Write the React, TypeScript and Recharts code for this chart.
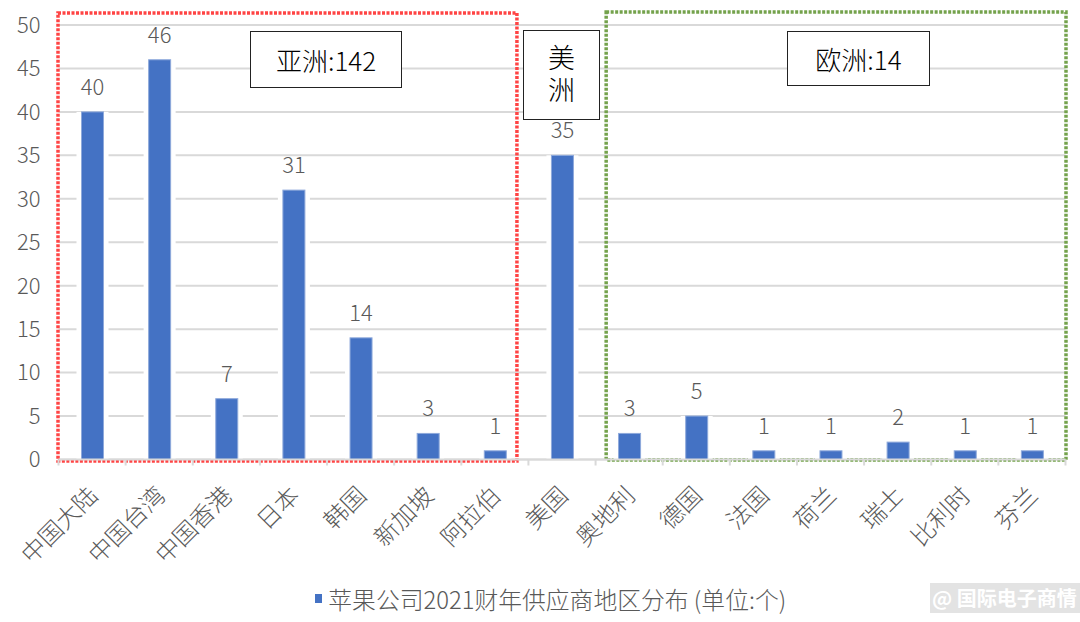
import React from 'react';
import { BarChart, Bar, XAxis, YAxis, CartesianGrid, LabelList, ReferenceArea, Legend } from 'recharts';

const categories = ['中国大陆', '中国台湾', '中国香港', '日本', '韩国', '新加坡', '阿拉伯', '美国', '奥地利', '德国', '法国', '荷兰', '瑞士', '比利时', '芬兰'];
const supplierCounts = [40, 46, 7, 31, 14, 3, 1, 35, 3, 5, 1, 1, 2, 1, 1];
const yTicks = [0, 5, 10, 15, 20, 25, 30, 35, 40, 45, 50];
const seriesName = '苹果公司2021财年供应商地区分布 (单位:个)';
const asiaRange = ['中国大陆', '阿拉伯'];
const europeRange = ['奥地利', '芬兰'];
const regionLabels = ['亚洲:142', '美洲', '欧洲:14'];

const data = categories.map((name, i) => ({ name, value: supplierCounts[i] }));

const FONT = '"Noto Sans CJK SC", "Noto Sans", sans-serif';
const GRAY = '#595959';
const GRID = '#d9d9d9';

const BarShape = (props: any) => {
  const { x, y, width, height } = props;
  if (!height || height <= 0) return null;
  return (
    <g>
      <rect x={x - 5} y={y} width={width + 10} height={height} fill="#fff" />
      <rect x={x} y={y} width={width} height={height} fill="#4472C4" stroke="#8EA9DB" strokeWidth={1} />
    </g>
  );
};

const XTick = (props: any) => {
  const { x, y, payload, index } = props;
  const off = payload && payload.offset ? payload.offset : 33.57;
  const last = index === categories.length - 1;
  const px = x;
  const py = y + 30;
  return (
    <g>
      <line x1={x - off} y1={y} x2={x - off} y2={y + 6} stroke={GRID} strokeWidth={2} />
      {last && <line x1={x + off} y1={y} x2={x + off} y2={y + 6} stroke={GRID} strokeWidth={2} />}
      <text
        x={px}
        y={py}
        transform={`rotate(-45 ${px} ${py})`}
        textAnchor="end"
        dominantBaseline="central"
        fill={GRAY}
        fontSize={24}
        fontWeight={300}
        fontFamily={FONT}
      >
        {payload.value}
      </text>
    </g>
  );
};

const makeBox = (color: string, insetL: number, insetR: number, top: number, bottom: number) => (props: any) => {
  const { x, y, width, height } = props;
  return (
    <rect
      x={x + insetL}
      y={y - top}
      width={width - insetL - insetR}
      height={height + top + bottom}
      fill="none"
      stroke={color}
      strokeWidth={3.5}
      strokeDasharray="3 1.5"
    />
  );
};

const LegendContent = () => (
  <div style={{ display: 'flex', justifyContent: 'center', alignItems: 'center', paddingLeft: 36, height: 40, fontFamily: FONT }}>
    <span style={{ display: 'inline-block', width: 7, height: 9, background: '#4472C4', marginRight: 6 }} />
    <span style={{ fontSize: 23.8, color: GRAY, fontWeight: 300 }}>{seriesName}</span>
  </div>
);

const boxStyle: React.CSSProperties = {
  position: 'absolute',
  background: '#fff',
  border: '1.5px solid #222',
  boxSizing: 'border-box',
  fontFamily: FONT,
  fontSize: 26,
  fontWeight: 300,
  color: '#000',
  display: 'flex',
  alignItems: 'center',
  justifyContent: 'center',
  textAlign: 'center',
};

export default function App() {
  return (
    <div style={{ position: 'absolute', left: 0, top: 0, width: 1080, height: 622, background: '#fff', overflow: 'hidden' }}>
      <BarChart width={1080} height={622} data={data} margin={{ top: 25, right: 14.5, left: 0, bottom: 4 }}>
        <CartesianGrid vertical={false} stroke={GRID} strokeWidth={2} />
        <XAxis
          dataKey="name"
          interval={0}
          height={118.5}
          tickSize={0}
          tickMargin={0}
          tickLine={false}
          axisLine={{ stroke: GRID, strokeWidth: 2 }}
          tick={<XTick />}
        />
        <YAxis
          domain={[0, 50]}
          ticks={yTicks}
          width={58.5}
          tickSize={0}
          tickMargin={18}
          tickLine={false}
          axisLine={false}
          tick={{ fill: GRAY, fontSize: 22, fontFamily: FONT, fontWeight: 300 }}
        />
        <Legend verticalAlign="bottom" height={40} content={<LegendContent />} />
        <Bar dataKey="value" name={seriesName} barSize={22} isAnimationActive={false} shape={<BarShape />}>
          <LabelList dataKey="value" position="top" offset={17} fill={GRAY} fontSize={22} fontFamily={FONT} fontWeight={300} />
        </Bar>
        <ReferenceArea x1={asiaRange[0]} x2={asiaRange[1]} ifOverflow="visible" shape={makeBox('#FF4444', -0.5, 11.5, 12, 1.5)} />
        <ReferenceArea x1={europeRange[0]} x2={europeRange[1]} ifOverflow="visible" shape={makeBox('#74A24C', 10.6, -0.5, 13, 0.5)} />
      </BarChart>
      <div style={{ ...boxStyle, left: 250, top: 31, width: 152, height: 57 }}>{regionLabels[0]}</div>
      <div style={{ ...boxStyle, left: 523, top: 30, width: 77, height: 90, lineHeight: '32px', fontSize: 27, padding: '0 20px', paddingBottom: 4 }}>{regionLabels[1]}</div>
      <div style={{ ...boxStyle, left: 787, top: 31, width: 143, height: 55 }}>{regionLabels[2]}</div>
      <div
        style={{
          position: 'absolute',
          left: 930,
          top: 583,
          width: 150,
          height: 30,
          background: '#e3e3e3',
          color: '#fff',
          fontFamily: FONT,
          fontWeight: 700,
          fontSize: 20,
          lineHeight: '30px',
          paddingLeft: 2,
          boxSizing: 'border-box',
          whiteSpace: 'nowrap',
        }}
      >
        @ 国际电子商情
      </div>
    </div>
  );
}
